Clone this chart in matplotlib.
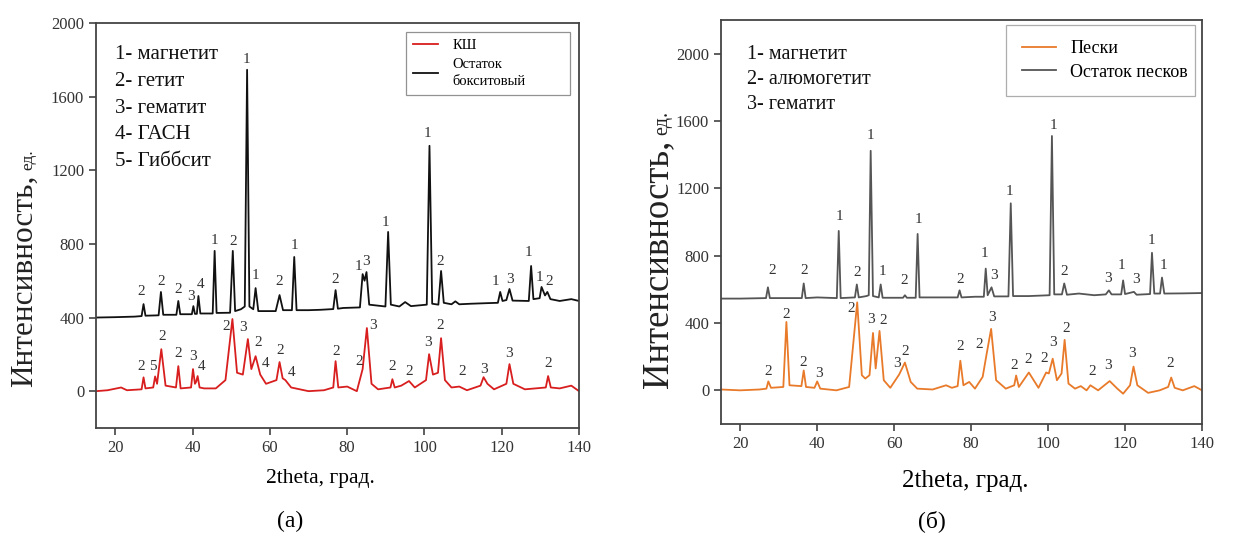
import matplotlib
matplotlib.use("Agg")
import matplotlib.pyplot as plt

plt.rcParams["font.family"] = ["Liberation Serif", "DejaVu Serif"]

# ---- (а) vertices: (2theta, intensity) ----
bauxite_res = [(15, 400), (20, 402), (25, 405), (26.8, 408), (27.3, 473), (27.8, 410),
               (31.2, 412), (31.8, 539), (32.4, 415), (35.8, 415), (36.3, 490), (36.8, 418),
               (39.8, 418), (40.2, 462), (40.6, 420), (41.1, 420), (41.5, 517), (42.0, 422),
               (45.2, 422), (45.7, 762), (46.2, 425), (49.7, 426), (50.4, 762), (51.0, 435),
               (52.5, 445), (53.5, 460), (54.1, 1746), (54.7, 460), (55.7, 445), (56.3, 560),
               (57.0, 435), (61.5, 435), (62.5, 522), (63.4, 440), (65.7, 440), (66.3, 729),
               (66.9, 440), (70, 440), (73, 442), (76.4, 446), (77.0, 549), (77.6, 448),
               (79, 452), (83.3, 455), (84.0, 636), (84.5, 600), (85.0, 647), (85.7, 470),
               (89.9, 460), (90.6, 865), (91.3, 470), (93.5, 460), (95, 484), (96.5, 462),
               (100.6, 470), (101.3, 1333), (102.0, 475), (103.6, 470), (104.3, 653), (105.0, 480),
               (107, 472), (108, 488), (109, 472), (112, 475), (116, 478), (119.0, 480),
               (119.6, 539), (120.2, 490), (121.2, 495), (122, 555), (122.8, 492), (127.0, 490),
               (127.6, 680), (128.2, 500), (129.8, 505), (130.3, 566), (131.2, 520), (131.8, 539),
               (132.6, 500), (135, 490), (138, 500), (140, 490)]

ksh = [(15, 0), (18, 5), (21.5, 20), (23, 5), (26.8, 10), (27.3, 75), (27.8, 15),
       (29.8, 20), (30.3, 80), (30.8, 40), (31.9, 228), (33.0, 30), (35.7, 20), (36.3, 136),
       (36.9, 15), (39.6, 20), (40.1, 120), (40.6, 40), (40.9, 50), (41.3, 82), (41.8, 20),
       (43, 15), (46, 15), (48.5, 60), (50.3, 392), (51.5, 100), (53, 90), (54.3, 283),
       (55.2, 120), (56.3, 190), (57.5, 90), (59, 40), (61.7, 60), (62.5, 158), (63.3, 70),
       (64.0, 60), (65.5, 20), (70, 0), (74, 5), (76.4, 20), (77.0, 163), (77.7, 20),
       (80, 25), (82.5, 0), (84.0, 120), (85.1, 343), (86.3, 40), (88, 10), (91.2, 20),
       (91.7, 65), (92.3, 20), (94, 30), (96, 55), (97.5, 20), (100.4, 60), (101.2, 201),
       (102.2, 90), (103.5, 100), (104.3, 288), (105.3, 60), (107, 20), (109, 25), (111, 5),
       (114.5, 30), (115.3, 76), (116.3, 40), (118, 10), (121.2, 40), (122, 147), (123.0, 40),
       (126, 10), (131.4, 20), (132, 82), (132.7, 20), (135, 15), (138, 30), (140, 0)]

labels_a_top = [(26.7, 544, "2"), (31.9, 598, "2"), (36.3, 555, "2"), (39.6, 517, "3"),
                (42.0, 577, "4"), (45.6, 816, "1"), (50.5, 811, "2"), (53.9, 1800, "1"),
                (56.4, 626, "1"), (62.3, 598, "2"), (66.3, 789, "1"), (76.9, 609, "2"),
                (82.8, 675, "1"), (84.9, 707, "3"), (90.0, 919, "1"), (100.9, 1398, "1"),
                (104.2, 702, "2"), (118.5, 598, "1"), (122.1, 609, "3"), (127.0, 756, "1"),
                (129.8, 620, "1"), (132.4, 598, "2")]

labels_a_bot = [(26.7, 136, "2"), (29.8, 136, "5"), (32.1, 299, "2"), (36.3, 207, "2"),
                (40.2, 190, "3"), (42.2, 136, "4"), (48.7, 354, "2"), (53.1, 348, "3"),
                (56.9, 267, "2"), (59.0, 152, "4"), (62.6, 223, "2"), (65.7, 103, "4"),
                (77.1, 218, "2"), (83.0, 163, "2"), (86.7, 359, "3"), (91.6, 136, "2"),
                (96.0, 109, "2"), (100.9, 267, "3"), (104.2, 359, "2"), (109.7, 109, "2"),
                (115.3, 120, "3"), (121.8, 207, "3"), (131.9, 152, "2")]

phases_a = ["1- магнетит", "2- гетит", "3- гематит", "4- ГАСН", "5- Гиббсит"]

# ---- (б) ----
sand_res = [(15, 545), (20, 545), (26.7, 548), (27.2, 612), (27.7, 548), (32, 548),
            (36.0, 548), (36.5, 635), (37.0, 548), (40, 552), (45.1, 548), (45.6, 947),
            (46.1, 548), (49.8, 552), (50.3, 629), (50.8, 552), (52.8, 560), (53.4, 565),
            (53.9, 1423), (54.5, 560), (56.0, 552), (56.5, 629), (57.0, 550), (62.3, 550),
            (62.8, 565), (63.3, 550), (65.6, 550), (66.1, 929), (66.6, 552), (72, 552),
            (76.5, 552), (77, 594), (77.5, 552), (81, 556), (83.3, 556), (83.8, 723),
            (84.3, 565), (85.3, 612), (86, 558), (89.7, 558), (90.3, 1111), (90.9, 560),
            (95, 560), (100.4, 565), (101, 1511), (101.6, 570), (103.6, 570), (104.2, 635),
            (104.9, 568), (108, 575), (112, 565), (115, 570), (115.8, 594), (116.5, 570),
            (119.0, 570), (119.5, 653), (120.0, 572), (122.3, 585), (123, 568), (126.5, 572),
            (127, 817), (127.6, 575), (129.1, 575), (129.6, 670), (130.2, 575), (135, 576),
            (140, 578)]

sands = [(15, 5), (20, 0), (25, 5), (26.8, 10), (27.3, 53), (28, 15), (31.2, 20), (32, 406),
         (32.8, 30), (35.9, 25), (36.5, 118), (37.1, 20), (39.3, 15), (40, 53), (40.8, 10),
         (45, 0), (48.3, 20), (50.4, 523), (51.6, 90), (52.5, 70), (53.6, 90), (54.5, 341),
         (55.2, 130), (56.2, 353), (57.3, 60), (59, 15), (61.3, 94), (62.8, 165), (64.3, 50),
         (66, 10), (70, 5), (73.5, 30), (75, 15), (76.5, 25), (77.2, 176), (78, 30),
         (79.5, 50), (81, 10), (83, 80), (84, 212), (85.2, 365), (86.5, 60), (89, 10),
         (91.2, 30), (91.7, 88), (92.4, 20), (95, 106), (97.5, 15), (99.5, 106), (100.2, 100),
         (101.2, 188), (102.3, 60), (103.5, 100), (104.3, 300), (105.3, 40), (107, 10),
         (108.5, 25), (110, 0), (111, 30), (113, 0), (116, 55), (118, 10), (119.5, -20),
         (121.3, 30), (122.2, 141), (123.2, 30), (126, -15), (129, 0), (131.2, 20), (132, 76),
         (132.9, 15), (135, 0), (138, 25), (140, 0)]

labels_b_top = [(28.3, 711, "2"), (36.6, 711, "2"), (45.7, 1035, "1"), (50.4, 700, "2"),
                (53.8, 1511, "1"), (56.9, 706, "1"), (62.6, 653, "2"), (66.2, 1017, "1"),
                (77.1, 659, "2"), (83.6, 811, "1"), (86.0, 682, "3"), (90.1, 1182, "1"),
                (101.3, 1576, "1"), (104.2, 706, "2"), (115.6, 664, "3"), (119.2, 741, "1"),
                (122.9, 659, "3"), (127.0, 888, "1"), (129.9, 741, "1")]

labels_b_bot = [(27.3, 112, "2"), (31.9, 453, "2"), (36.4, 165, "2"), (40.5, 100, "3"),
                (48.8, 488, "2"), (54.0, 423, "3"), (57.1, 412, "2"), (60.8, 159, "3"),
                (62.9, 229, "2"), (77.1, 259, "2"), (82.1, 270, "2"), (85.5, 435, "3"),
                (91.2, 147, "2"), (94.8, 182, "2"), (99.0, 188, "2"), (101.3, 282, "3"),
                (104.7, 370, "2"), (111.4, 112, "2"), (115.6, 147, "3"), (121.8, 218, "3"),
                (131.7, 159, "2")]

phases_b = ["1- магнетит", "2- алюмогетит", "3- гематит"]

xticks = [20, 40, 60, 80, 100, 120, 140]
yticks = [0, 400, 800, 1200, 1600, 2000]

fig = plt.figure(figsize=(12.42, 5.38), dpi=100)
ax_a = fig.add_axes([0.0773, 0.2045, 0.3889, 0.7527])
ax_b = fig.add_axes([0.5805, 0.2119, 0.3873, 0.7509])


def draw(ax, top, bot, top_color, bot_color, top_name, bot_name, lab_top, lab_bot, lsize):
    ax.plot([p[0] for p in bot], [p[1] for p in bot], color=bot_color, lw=1.3, label=bot_name)
    ax.plot([p[0] for p in top], [p[1] for p in top], color=top_color, lw=1.3, label=top_name)
    for x, y, t in lab_top + lab_bot:
        ax.text(x, y, t, ha="center", va="center", fontsize=lsize, color="#333333")
    ax.set_xlim(15, 140)
    ax.set_xticks(xticks)
    ax.set_yticks(yticks)
    ax.tick_params(direction="out", length=5, width=1.1, labelsize=12,
                   colors="#333333", top=False, right=False)
    for s in ax.spines.values():
        s.set_color("#444444")
        s.set_linewidth(1.3)


draw(ax_a, bauxite_res, ksh, "#111111", "#d81e1e", "Остаток\nбокситовый", "КШ",
     labels_a_top, labels_a_bot, 11)
ax_a.set_ylim(-200, 2000)
leg = ax_a.legend(loc="upper left", bbox_to_anchor=(0.642, 0.817, 0.339, 0.161), mode="expand",
                  fontsize=10.5, frameon=True, fancybox=False, edgecolor="#777777",
                  handlelength=1.7, handletextpad=1.0, borderpad=0.5, borderaxespad=0,
                  labelspacing=0.35)
leg.get_frame().set_linewidth(0.9)
for t in leg.get_texts():
    t.set_linespacing(1.45)
for i, t in enumerate(phases_a):
    ax_a.text(0.04, 0.922 - i * 0.066, t, transform=ax_a.transAxes, fontsize=15,
              va="center", ha="left", color="#111111")

draw(ax_b, sand_res, sands, "#555555", "#e87a2a", "Остаток песков", "Пески",
     labels_b_top, labels_b_bot, 11)
ax_b.set_ylim(-200, 2200)
leg = ax_b.legend(loc="upper left", bbox_to_anchor=(0.593, 0.829, 0.392, 0.159), mode="expand",
                  fontsize=13, frameon=True, fancybox=False, edgecolor="#999999",
                  handlelength=1.9, handletextpad=0.8, borderpad=0.85, borderaxespad=0,
                  labelspacing=0.35)
leg.get_frame().set_linewidth(0.9)
for i, t in enumerate(phases_b):
    ax_b.text(0.055, 0.915 - i * 0.062, t, transform=ax_b.transAxes, fontsize=14.5,
              va="center", ha="left", color="#111111")

# y labels: big "Интенсивность," followed by small "ед."
W, H = 1242, 538
fig.canvas.draw()
rend = fig.canvas.get_renderer()
for bx, y0, big, small in [(32, 387, 22.5, 12.5), (667, 388, 26.5, 14.5)]:
    t1 = fig.text(bx / W, 1 - y0 / H, "Интенсивность,", rotation=90, rotation_mode="anchor",
                  ha="left", va="baseline", fontsize=big, color="#222222")
    bb = t1.get_window_extent(renderer=rend)
    fig.text(bx / W, (bb.y1 + 5) / H, "ед.", rotation=90, rotation_mode="anchor",
             ha="left", va="baseline", fontsize=small, color="#222222")

fig.text(320 / W, 1 - 478 / H, "2theta, град.", ha="center", va="center", fontsize=15.5)
fig.text(965 / W, 1 - 481 / H, "2theta, град.", ha="center", va="center", fontsize=18)
fig.text(290 / W, 1 - 521 / H, "(а)", ha="center", va="center", fontsize=17)
fig.text(932 / W, 1 - 521 / H, "(б)", ha="center", va="center", fontsize=17)

fig.savefig("out.png", dpi=100)
